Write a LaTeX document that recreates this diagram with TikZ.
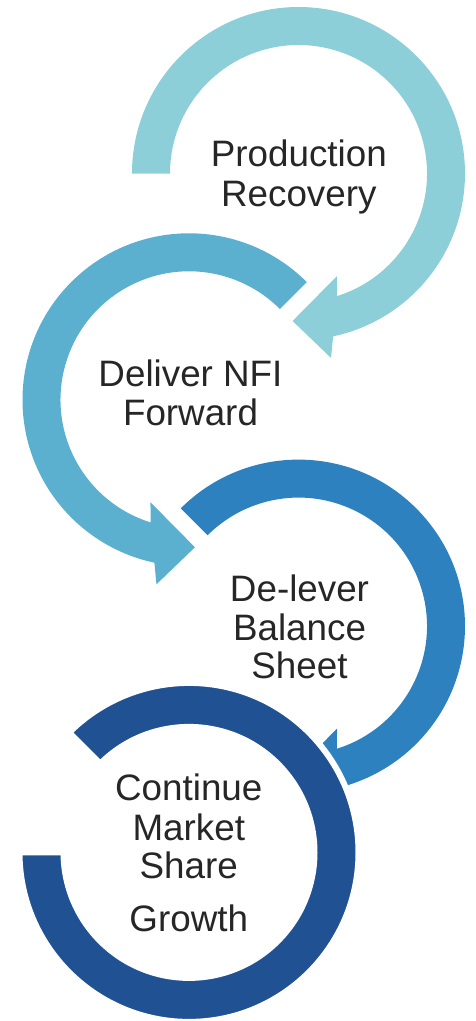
\documentclass[tikz,border=0pt]{standalone}
\usepackage{fontspec}
\setmainfont{Liberation Sans}
\usetikzlibrary{calc}
\definecolor{c1}{HTML}{8DCFD9}
\definecolor{c2}{HTML}{5BAFCF}
\definecolor{c3}{HTML}{2E81BF}
\definecolor{c4}{HTML}{1F5193}
\definecolor{txt}{HTML}{262626}
\tikzset{
  lbl/.style={font=\fontsize{36.8}{40}\selectfont, text=txt, anchor=base, inner sep=0pt}
}
\begin{document}
\begin{tikzpicture}[x=1pt,y=-1pt]
\useasboundingbox (0,0) rectangle (476,1021);
% arrow 1
\coordinate (C1) at (298.5,173.5);
\fill[c1] ($(C1)+(-180:166.5)$) arc[start angle=-180, end angle=78, radius=166.5]
  -- ($(C1)+(80:187.3)$) -- ($(C1)+(92.3:147.6)$) -- ($(C1)+(69.4:109.5)$)
  -- ($(C1)+(72.6:128.5)$) arc[start angle=72.6, end angle=-180, radius=128.5] -- cycle;
% arrow 2
\coordinate (C2) at (189,399.8);
\fill[c2] ($(C2)+(-45:166.5)$) arc[start angle=-45, end angle=-258, radius=166.5]
  -- ($(C2)+(-260:187.3)$) -- ($(C2)+(-272.3:147.6)$) -- ($(C2)+(-249.4:109.5)$)
  -- ($(C2)+(-252.6:128.5)$) arc[start angle=-252.6, end angle=-45, radius=128.5] -- cycle;
% arrow 3
\coordinate (C3) at (298.5,626.1);
\fill[c3] ($(C3)+(-135:166.5)$) arc[start angle=-135, end angle=78, radius=166.5]
  -- ($(C3)+(80:187.3)$) -- ($(C3)+(92.3:147.6)$) -- ($(C3)+(69.4:109.5)$)
  -- ($(C3)+(72.6:128.5)$) arc[start angle=72.6, end angle=-135, radius=128.5] -- cycle;
% arrow 4
\coordinate (C4) at (189,852.4);
\filldraw[fill=c4, draw=white, line width=6pt, line join=miter]
  ($(C4)+(180:169.5)$) arc[start angle=180, end angle=-135, radius=169.5]
  -- ($(C4)+(-135:125.5)$) arc[start angle=-135, end angle=180, radius=125.5] -- cycle;
% labels
\node[lbl] (t1a) at (298.8,166.7) {Production};
\node[lbl] (t1b) at (298.8,206) {Recovery};
\node[lbl] (t2a) at (190.5,386.7) {Deliver NFI};
\node[lbl] (t2b) at (190.5,425.3) {Forward};
\node[lbl] (t3a) at (299.5,601.7) {De-lever};
\node[lbl] (t3b) at (299.5,640) {Balance};
\node[lbl] (t3c) at (299.5,678.3) {Sheet};
\node[lbl] (t4a) at (188.8,800.7) {Continue};
\node[lbl] (t4b) at (188.8,840) {Market};
\node[lbl] (t4c) at (188.8,878.3) {Share};
\node[lbl] (t4d) at (188.8,931.7) {Growth};
\end{tikzpicture}
\end{document}
